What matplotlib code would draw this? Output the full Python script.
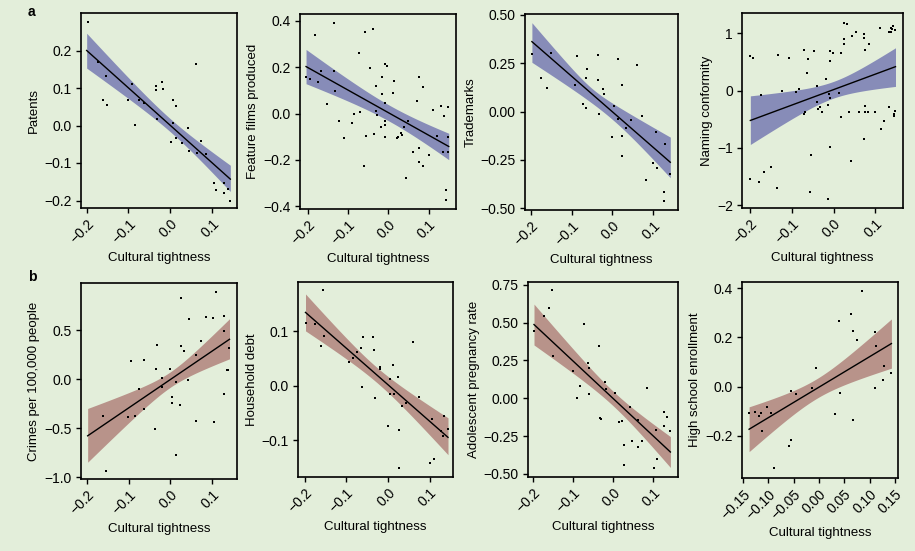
import numpy as np
import matplotlib
matplotlib.use("Agg")
import matplotlib.pyplot as plt

plt.rcParams['font.family'] = ['Liberation Sans', 'DejaVu Sans']

BG = '#e3eeda'
BLUE = '#878cb8'
RED = '#b8938a'

# ---------------- data ----------------
xlabel = 'Cultural tightness'
ylabels = ['Patents', 'Feature films produced', 'Trademarks', 'Naming conformity',
           'Crimes per 100,000 people', 'Household debt', 'Adolescent pregnancy rate',
           'High school enrollment']

patents_x = [-0.198, -0.174, -0.154, -0.162, -0.152, -0.1, -0.092, -0.084, -0.074, -0.062,
             -0.034, -0.034, -0.02, -0.018, -0.032, 0.006, 0.014, 0.006, 0.002, 0.014,
             0.028, 0.042, 0.046, 0.062, 0.074, 0.064, 0.086, 0.104, 0.11, 0.128, 0.13,
             0.144, 0.138]
patents_y = [0.275, 0.169, 0.133, 0.067, 0.055, 0.067, 0.11, 0.002, 0.068, 0.06,
             0.106, 0.095, 0.115, 0.097, 0.018, 0.067, 0.052, 0.006, -0.045, -0.032,
             -0.047, -0.007, -0.069, 0.165, -0.04, -0.074, -0.076, -0.152, -0.172, -0.181, -0.152,
             -0.2, -0.17]

films_x = [-0.204, -0.195, -0.181, -0.175, -0.167, -0.152, -0.135, -0.134, -0.131, -0.123,
           -0.109, -0.09, -0.084, -0.073, -0.071, -0.057, -0.055, -0.046, -0.061, -0.037,
           -0.036, -0.03, -0.03, -0.027, -0.015, -0.015, -0.017, -0.009, -0.009, -0.008,
           -0.007, -0.002, -0.008, 0.014, 0.012, 0.022, 0.025, 0.032, 0.035, 0.039,
           0.043, 0.05, 0.062, 0.072, 0.075, 0.075, 0.076, 0.085, 0.085, 0.101,
           0.112, 0.122, 0.132, 0.136, 0.137, 0.143, 0.147, 0.149, 0.143, 0.147]
films_y = [0.159, 0.149, 0.339, 0.136, 0.185, 0.042, 0.392, 0.185, 0.099, -0.032,
           -0.106, -0.042, -0.003, 0.263, 0.009, 0.353, -0.096, 0.198, -0.228, 0.364,
           -0.088, 0.119, 0.011, -0.006, 0.159, 0.083, -0.06, 0.214, -0.03, -0.099,
           -0.049, 0.207, 0.045, 0.141, 0.088, -0.106, -0.102, -0.085, -0.092, -0.059,
           -0.279, -0.032, -0.164, 0.055, 0.157, -0.149, -0.207, 0.116, -0.228, -0.178,
           0.016, -0.096, 0.033, -0.164, -0.01, -0.332, -0.099, 0.027, -0.372, -0.164]

trademarks_x = [-0.198, -0.176, -0.161, -0.152, -0.092, -0.086, -0.073, -0.065, -0.065, -0.061,
                -0.036, -0.034, -0.032, -0.022, -0.02, 0.0, 0.004, 0.013, 0.015, 0.025,
                0.025, 0.025, 0.034, 0.045, 0.06, 0.074, 0.084, 0.101, 0.107, 0.111,
                0.128, 0.13, 0.128, 0.142]
trademarks_y = [0.298, 0.176, 0.124, 0.305, 0.138, 0.29, 0.04, 0.017, 0.176, 0.221,
                0.293, 0.164, -0.014, 0.116, 0.09, -0.133, 0.029, 0.271, -0.038, 0.138,
                -0.126, -0.228, -0.086, -0.043, 0.241, -0.021, -0.353, -0.267, -0.107, -0.29,
                -0.414, -0.167, -0.462, -0.322]

naming_x = [-0.202, -0.194, -0.175, -0.202, -0.18, -0.167, -0.151, -0.134, -0.135, -0.123,
            -0.108, -0.09, -0.083, -0.072, -0.072, -0.07, -0.064, -0.062, -0.055, -0.058,
            -0.047, -0.039, -0.039, -0.038, -0.032, -0.028, -0.018, -0.015, -0.015, -0.011,
            -0.01, -0.008, -0.008, -0.01, -0.003, 0.012, 0.018, 0.018, 0.024, 0.025,
            0.025, 0.032, 0.036, 0.041, 0.044, 0.054, 0.06, 0.072, 0.072, 0.073,
            0.074, 0.074, 0.074, 0.082, 0.084, 0.1, 0.11, 0.114, 0.121, 0.132,
            0.132, 0.137, 0.14, 0.142, 0.145, 0.145, 0.146, 0.146, 0.138]
naming_y = [0.607, 0.578, -0.075, -1.543, -1.601, -1.428, -1.341, 0.624, -1.705, -0.006,
            0.578, -0.017, 0.029, 0.705, -0.405, -0.364, 0.306, 0.549, -1.127, -1.775,
            0.694, 0.075, -0.191, -0.318, -0.277, -0.376, 0.202, -0.249, -1.89, -0.058,
            -0.133, 0.694, 0.52, -0.983, 0.665, -0.046, 0.665, -0.462, 0.821, 0.908,
            1.185, 1.168, -0.376, -1.231, 0.954, 1.023, -0.376, 0.925, 0.994, -0.838,
            0.711, -0.26, -0.376, -0.376, 0.809, -0.376, 1.098, -0.665, -0.538, 1.023,
            -0.289, 1.023, 1.081, 1.127, -0.405, -0.434, -0.347, 1.069, 1.098]

crimes_x = [-0.162, -0.154, -0.094, -0.102, -0.084, -0.074, -0.062, -0.062, -0.036, -0.034,
            -0.032, -0.02, -0.02, 0.0, 0.005, 0.005, 0.014, 0.014, 0.024, 0.026,
            0.026, 0.034, 0.042, 0.046, 0.061, 0.062, 0.074, 0.086, 0.102, 0.106,
            0.11, 0.128, 0.128, 0.13, 0.136, 0.142, 0.138]
crimes_y = [-0.371, -0.939, 0.184, -0.381, -0.374, -0.102, 0.197, -0.306, -0.51, 0.105,
            0.35, 0.01, -0.082, 0.102, -0.184, -0.238, -0.024, -0.772, -0.259, 0.34,
            0.833, 0.289, -0.007, 0.619, -0.422, 0.245, 0.391, 0.633, 0.626, -0.432,
            0.898, 0.646, 0.493, -0.15, 0.099, 0.323, 0.095]

debt_x = [-0.198, -0.176, -0.162, -0.156, -0.154, -0.094, -0.084, -0.074, -0.064, -0.062,
          -0.06, -0.036, -0.034, -0.032, -0.02, -0.02, 0.0, 0.004, 0.006, 0.012,
          0.014, 0.024, 0.026, 0.026, 0.034, 0.044, 0.06, 0.074, 0.102, 0.11,
          0.106, 0.128, 0.134, 0.144, 0.132]
debt_y = [0.116, 0.114, 0.073, 0.176, 0.091, 0.043, 0.051, 0.062, 0.069, -0.002,
          0.089, 0.089, 0.066, -0.023, 0.034, 0.031, -0.075, 0.013, -0.015, 0.039,
          -0.015, 0.016, -0.082, -0.151, -0.037, -0.031, 0.08, -0.02, -0.142, -0.135,
          -0.061, -0.084, -0.056, -0.08, -0.093]

pregnancy_x = [-0.198, -0.174, -0.16, -0.154, -0.151, -0.101, -0.091, -0.083, -0.073, -0.062,
               -0.061, -0.06, -0.035, -0.033, -0.031, -0.021, -0.019, 0.004, 0.015, 0.023,
               0.027, 0.027, 0.043, 0.046, 0.061, 0.061, 0.073, 0.085, 0.101, 0.106,
               0.11, 0.127, 0.128, 0.135, 0.141]
pregnancy_y = [0.445, 0.544, 0.596, 0.713, 0.279, 0.18, 0.004, 0.081, 0.493, 0.23,
               0.202, 0.029, 0.346, -0.132, -0.134, 0.107, 0.059, 0.037, -0.154, -0.147,
               -0.311, -0.443, -0.059, -0.285, -0.322, -0.143, -0.285, 0.066, -0.461, -0.208,
               -0.401, -0.088, -0.18, -0.125, -0.213]

school_x = [-0.138, -0.127, -0.119, -0.115, -0.112, -0.102, -0.095, -0.089, -0.059, -0.055,
            -0.056, -0.046, -0.013, -0.005, 0.032, 0.039, 0.042, 0.064, 0.067, 0.068,
            0.076, 0.084, 0.11, 0.111, 0.113, 0.126, 0.128, 0.143]
school_y = [-0.105, -0.104, -0.121, -0.105, -0.182, -0.081, -0.105, -0.33, -0.243, -0.216,
            -0.016, -0.03, -0.007, 0.077, -0.111, 0.267, -0.024, 0.296, -0.135, 0.226,
            0.189, 0.388, -0.004, 0.222, 0.164, 0.027, 0.085, 0.057]

# fitted lines: x at both ends, y at both ends
fit_x = [[-0.2, 0.144], [-0.204, 0.15], [-0.198, 0.143], [-0.2, 0.148],
         [-0.198, 0.142], [-0.198, 0.144], [-0.198, 0.143], [-0.138, 0.143]]
fit_y = [[0.2, -0.143], [0.203, -0.142], [0.362, -0.262], [-0.52, 0.42],
         [-0.578, 0.41], [0.135, -0.095], [0.487, -0.355], [-0.173, 0.175]]
# confidence band half-widths (above / below line) at left end, middle, right end
band_mid_x = [-0.02, -0.01, -0.01, -0.02, -0.01, -0.03, -0.02, 0.0]
band_up = [[0.046, 0.018, 0.037], [0.074, 0.035, 0.057], [0.098, 0.04, 0.13], [0.43, 0.15, 0.33],
           [0.28, 0.08, 0.21], [0.034, 0.014, 0.036], [0.135, 0.05, 0.102], [0.091, 0.04, 0.1]]
band_dn = [[0.047, 0.018, 0.033], [0.074, 0.035, 0.057], [0.107, 0.04, 0.08], [0.42, 0.15, 0.345],
           [0.27, 0.08, 0.2], [0.034, 0.014, 0.032], [0.135, 0.05, 0.102], [0.091, 0.04, 0.1]]

xlims = [(-0.2136, 0.16), (-0.219, 0.168), (-0.215, 0.162), (-0.22, 0.166),
         (-0.214, 0.16), (-0.216, 0.156), (-0.213, 0.162), (-0.152, 0.156)]
ylims = [(-0.22, 0.3), (-0.412, 0.43), (-0.509, 0.505), (-2.05, 1.358),
         (-1.02, 0.986), (-0.168, 0.191), (-0.52, 0.768), (-0.371, 0.425)]
xticks = [[-0.2, -0.1, 0.0, 0.1]] * 7 + [[-0.15, -0.10, -0.05, 0.00, 0.05, 0.10, 0.15]]
xtick_fmt = ['{:.1f}'] * 7 + ['{:.2f}']
yticks = [[-0.2, -0.1, 0.0, 0.1, 0.2], [-0.4, -0.2, 0.0, 0.2, 0.4],
          [-0.5, -0.25, 0.0, 0.25, 0.5], [-2, -1, 0, 1],
          [-1.0, -0.5, 0.0, 0.5], [-0.1, 0.0, 0.1],
          [-0.5, -0.25, 0.0, 0.25, 0.5, 0.75], [-0.2, 0.0, 0.2, 0.4]]
ytick_fmt = ['{:.1f}', '{:.1f}', '{:.2f}', '{:.0f}', '{:.1f}', '{:.1f}', '{:.2f}', '{:.1f}']

xs_all = [patents_x, films_x, trademarks_x, naming_x, crimes_x, debt_x, pregnancy_x, school_x]
ys_all = [patents_y, films_y, trademarks_y, naming_y, crimes_y, debt_y, pregnancy_y, school_y]

# axes boxes in pixels: left, right, top, bottom
W, H = 915, 551
boxes = [(81, 237, 13, 208), (300, 456, 14, 209), (525, 678, 14, 210), (742, 903, 13, 208),
         (81, 237, 283, 479), (298, 453, 282, 477), (528, 678, 282, 477), (742, 898, 282, 478)]

fig = plt.figure(figsize=(W / 100, H / 100), dpi=100, facecolor=BG)


def halfwidth(xq, xs3, hw3):
    c = np.polyfit(xs3, np.array(hw3) ** 2, 2)
    return np.sqrt(np.clip(np.polyval(c, xq), 0, None))


for i in range(8):
    l, r, t, b = boxes[i]
    ax = fig.add_axes([l / W, 1 - b / H, (r - l) / W, (b - t) / H])
    ax.set_facecolor(BG)
    col = BLUE if i < 4 else RED
    x0, x1 = fit_x[i]
    y0, y1 = fit_y[i]
    xx = np.linspace(x0, x1, 200)
    yy = y0 + (y1 - y0) * (xx - x0) / (x1 - x0)
    xs3 = [x0, band_mid_x[i], x1]
    up = halfwidth(xx, xs3, band_up[i])
    dn = halfwidth(xx, xs3, band_dn[i])
    ax.fill_between(xx, yy - dn, yy + up, color=col, lw=0, zorder=1)
    ax.plot(xx, yy, color='black', lw=1.0, zorder=3)
    ax.scatter(xs_all[i], ys_all[i], s=2.8, marker='s', color='black', lw=0, zorder=4)
    ax.set_xlim(*xlims[i])
    ax.set_ylim(*ylims[i])
    ax.set_xticks(xticks[i])
    ax.set_xticklabels([xtick_fmt[i].format(v).replace('-', '\u2212') for v in xticks[i]],
                       rotation=45, ha='right', va='top', rotation_mode='anchor')
    ax.set_yticks(yticks[i])
    ax.set_yticklabels([ytick_fmt[i].format(v).replace('-', '\u2212') for v in yticks[i]])
    ax.tick_params(direction='out', length=3.5, width=1.0, labelsize=10, pad=3, colors='black')
    for s in ax.spines.values():
        s.set_linewidth(1.2)
    ax.set_xlabel(xlabel, fontsize=9.5, labelpad=4)
    ax.set_ylabel(ylabels[i], fontsize=9.5, labelpad=3)

fig.text(28 / W, 1 - 12 / H, 'a', fontsize=10, fontweight='bold', va='center', ha='left')
fig.text(28 / W, 1 - 277 / H, 'b', fontsize=10, fontweight='bold', va='center', ha='left')

fig.savefig('out.png', dpi=100, facecolor=BG)
